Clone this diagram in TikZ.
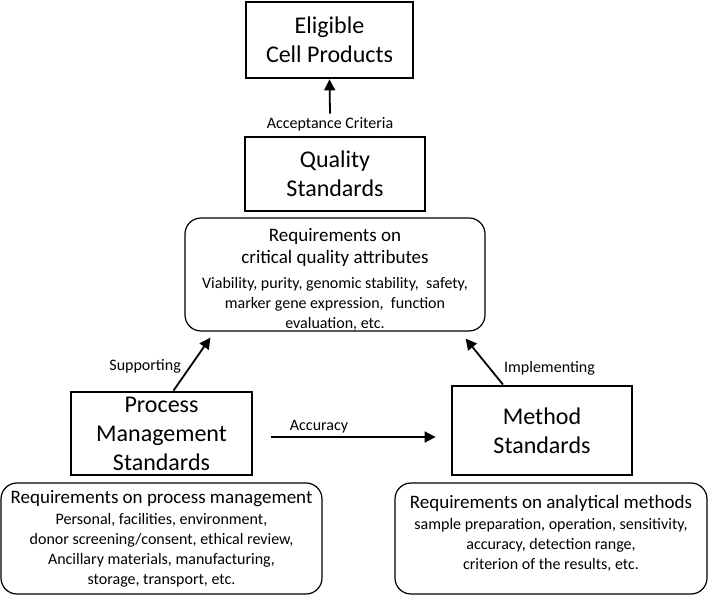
\documentclass[tikz,border=0pt]{standalone}
\usepackage{fontspec}
\setmainfont{Carlito}
\usetikzlibrary{arrows.meta, positioning}

\newcommand{\reqhead}{\fontsize{19}{22}\selectfont}
\newcommand{\reqtext}{\fontsize{16}{20}\selectfont}

\tikzset{
  stdbox/.style={draw, line width=2.8pt, align=center, font=\fontsize{24}{29}\selectfont},
  reqbox/.style={draw, line width=1.2pt, rounded corners=16pt, align=center, font=\reqtext},
  reqtxt/.style={align=center, font=\reqtext},
  arr/.style={-{Triangle[length=11pt,width=11pt]}, line width=1.8pt},
  lbl/.style={font=\fontsize{16}{19}\selectfont}
}

\begin{document}
\begin{tikzpicture}[x=1pt,y=1pt]
\useasboundingbox (0,0) rectangle (709,594);

%eligible
\node[stdbox, minimum width=167pt, minimum height=76pt] (elig) at (329.5,554) {Eligible\\Cell Products};
%quality
\node[stdbox, minimum width=180pt, minimum height=74pt] (qual) at (335,420) {Quality\\Standards};
%quality requirements
\node[reqbox, below=5pt of qual, minimum width=300pt, minimum height=113pt] (reqq) {};
\node[reqtxt, below=7pt of reqq.north] (reqqtxt)
  {\reqhead Requirements on\\[2pt] \reqhead critical quality attributes\\[5pt] Viability, purity, genomic stability,\ \ safety,\\ marker gene expression,\ \ function\\ evaluation, etc.};

%process
\node[stdbox, minimum width=181pt, minimum height=83pt] (proc) at (161.5,160.5) {Process\\Management\\Standards};
%process requirements
\node[reqbox, below=6pt of proc, minimum width=321pt, minimum height=111pt] (reqp)
  {\reqhead Requirements on process management\\[1pt] Personal, facilities, environment,\\ donor screening/consent, ethical review,\\ Ancillary materials, manufacturing,\\ storage, transport, etc.};

%method
\node[stdbox, minimum width=180pt, minimum height=89pt] (meth) at (542,163.5) {Method\\Standards};
%method requirements
\node[reqbox, below=6pt of meth, xshift=9pt, minimum width=312pt, minimum height=111pt] (reqm) {};
\node[reqtxt, below=9pt of reqm.north] (reqmtxt)
  {\reqhead Requirements on analytical methods\\[1pt] sample preparation, operation, sensitivity,\\ accuracy, detection range,\\ criterion of the results, etc.};

%acceptance
\node[lbl] (acc) at (330,470) {Acceptance Criteria};
\draw[arr] (acc.north) -- (elig.south);

\draw[arr] ([xshift=12pt]proc.north) -- node[lbl, left=5pt, pos=0.45] {Supporting} ([xshift=26pt,yshift=-6pt]reqq.south west);
\draw[arr] ([xshift=-39pt]meth.north) -- node[lbl, right=10pt, pos=0.35] {Implementing} ([xshift=-20pt,yshift=-7pt]reqq.south east);
\draw[arr] ([xshift=18pt,yshift=-3.5pt]proc.east) -- node[lbl, above, pos=0.29] {Accuracy} ([xshift=-15pt,yshift=-6.5pt]meth.west);

\end{tikzpicture}
\end{document}
